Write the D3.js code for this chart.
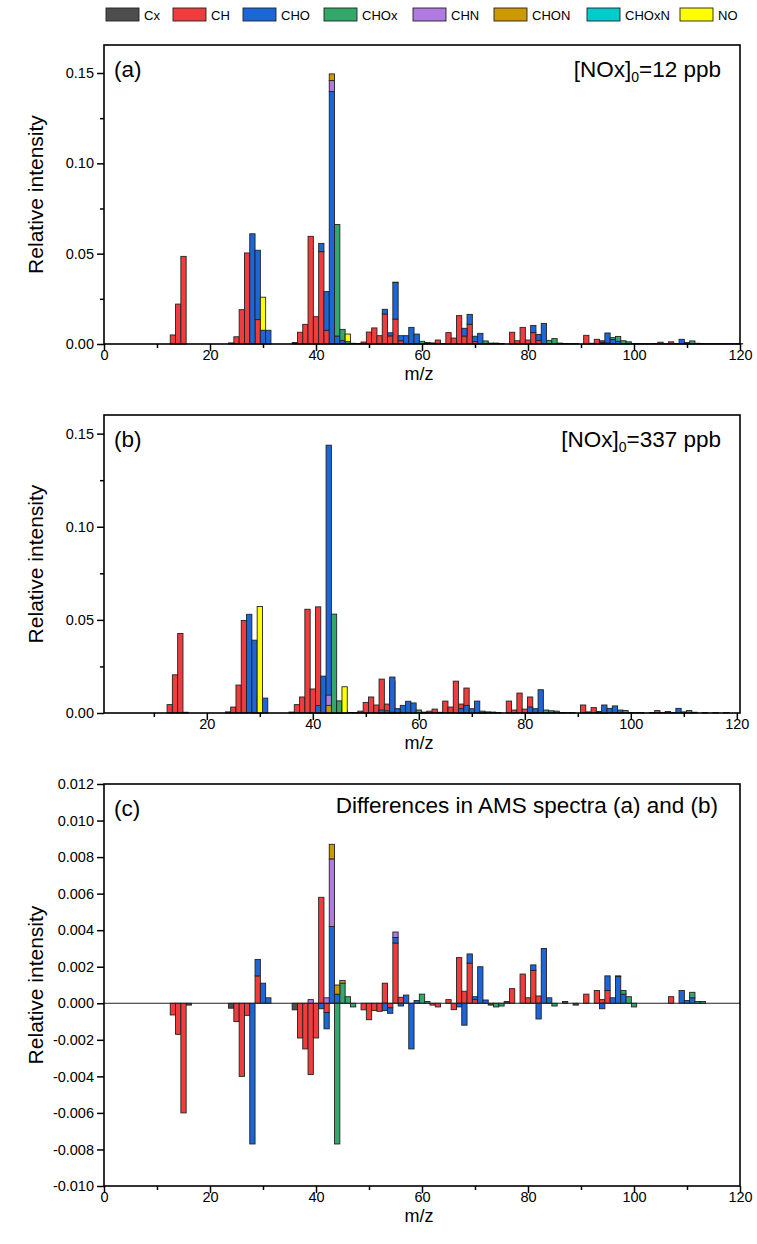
<!DOCTYPE html>
<html>
<head>
<meta charset="utf-8">
<script src="https://cdn.jsdelivr.net/npm/d3@7"></script>
<style>
  body { margin: 0; background: #fff; }
  svg { display: block; font-family: "Liberation Sans", Arial, sans-serif; }
</style>
</head>
<body>
<svg id="chart" width="757" height="1244"></svg>
<script>
const categories = ["Cx", "CH", "CHO", "CHOx", "CHN", "CHON", "CHOxN", "NO"]
const colors = ["#4d4d4d", "#f03c3c", "#1c66d8", "#33a86a", "#b07ae0", "#cc9900", "#00cccc", "#ffff00"]
const mzValues = d3.range(1, 121)

// (a) [NOx]0 = 12 ppb, [m/z, relative intensity]
const aCx = [[24,0.0006],[36,0.0008],[48,0.0003],[61,0.0004],[75,0.0003],[87,0.0003],[88,0.0002],[89,0.0002],[100,0.0003],[101,0.0003],[102,0.0002],[103,0.0002],[104,0.0003],[106,0.0002],[108,0.0003],[114,0.0002],[115,0.0002],[116,0.0002],[117,0.0002],[118,0.0002],[119,0.0002],[120,0.0002]]
const aCH = [[13,0.0050],[14,0.0221],[15,0.0485],[25,0.0040],[26,0.0190],[27,0.0504],[29,0.0135],[37,0.0065],[38,0.0109],[39,0.0596],[40,0.0151],[41,0.0511],[42,0.0076],[49,0.0011],[50,0.0066],[51,0.0089],[52,0.0046],[53,0.0166],[54,0.0045],[55,0.0138],[56,0.0018],[62,0.0006],[63,0.0022],[64,0.0003],[65,0.0063],[66,0.0033],[67,0.0157],[68,0.0044],[69,0.0109],[70,0.0013],[77,0.0065],[78,0.0018],[79,0.0092],[80,0.0022],[81,0.0063],[82,0.0020],[91,0.0048],[92,0.0004],[93,0.0026],[94,0.0008],[95,0.0006],[105,0.0010],[107,0.0012]]
const aCHO = [[28,0.0610],[29,0.0384],[30,0.0076],[31,0.0076],[41,0.0046],[42,0.0214],[43,0.1397],[44,0.0044],[45,0.0020],[53,0.0026],[54,0.0017],[55,0.0203],[56,0.0028],[57,0.0046],[58,0.0092],[59,0.0055],[68,0.0043],[69,0.0055],[70,0.0030],[71,0.0059],[81,0.0040],[82,0.0033],[83,0.0114],[94,0.0010],[95,0.0055],[96,0.0025],[97,0.0015],[109,0.0026],[110,0.0008]]
const aCHOx = [[44,0.0617],[45,0.0061],[46,0.0013],[47,0.0004],[60,0.0015],[61,0.0004],[72,0.0017],[73,0.0005],[74,0.0005],[84,0.0020],[85,0.0030],[86,0.0005],[96,0.0010],[97,0.0027],[98,0.0018],[99,0.0012],[111,0.0017],[112,0.0004],[113,0.0003]]
const aCHN = [[43,0.0061],[55,0.0001]]
const aCHON = [[43,0.0037]]
const aCHOxN = []
const aNO = [[30,0.0183],[46,0.0042]]

// (b) [NOx]0 = 337 ppb
const bCx = [[16,0.0004],[24,0.0006],[36,0.0005],[48,0.0003],[61,0.0004],[75,0.0003],[87,0.0003],[88,0.0002],[89,0.0002],[100,0.0003],[101,0.0003],[102,0.0002],[104,0.0003],[106,0.0002],[108,0.0003],[114,0.0002],[116,0.0002],[118,0.0002]]
const bCH = [[13,0.0045],[14,0.0205],[15,0.0427],[25,0.0032],[26,0.0150],[27,0.0497],[29,0.0150],[37,0.0045],[38,0.0086],[39,0.0557],[40,0.0129],[41,0.0570],[42,0.0071],[49,0.0010],[50,0.0057],[51,0.0086],[52,0.0043],[53,0.0182],[54,0.0048],[55,0.0171],[56,0.0021],[62,0.0010],[63,0.0021],[64,0.0004],[65,0.0064],[66,0.0032],[67,0.0171],[68,0.0048],[69,0.0134],[70,0.0015],[77,0.0064],[78,0.0016],[79,0.0107],[80,0.0021],[81,0.0086],[82,0.0020],[91,0.0043],[92,0.0006],[93,0.0029],[94,0.0008],[95,0.0010],[105,0.0013],[107,0.0008]]
const bCHO = [[28,0.0530],[29,0.0391],[30,0.0087],[31,0.0080],[41,0.0040],[42,0.0198],[43,0.1438],[44,0.0049],[45,0.0020],[53,0.0016],[54,0.0012],[55,0.0193],[56,0.0023],[57,0.0041],[58,0.0063],[59,0.0054],[68,0.0023],[69,0.0041],[70,0.0023],[71,0.0064],[72,0.0004],[81,0.0032],[82,0.0023],[83,0.0125],[94,0.0006],[95,0.0043],[96,0.0025],[97,0.0038],[98,0.0016],[109,0.0025],[110,0.0006]]
const bCHOx = [[44,0.0531],[45,0.0065],[46,0.0015],[47,0.0003],[60,0.0016],[61,0.0004],[72,0.0010],[73,0.0006],[74,0.0005],[84,0.0016],[85,0.0012],[86,0.0010],[99,0.0013],[111,0.0013],[112,0.0004]]
const bCHN = [[43,0.0096],[55,0.0004]]
const bCHON = [[43,0.0041]]
const bCHOxN = []
const bNO = [[30,0.0572],[46,0.0141]]

// (c) differences between (b) and (a)
const cCx = [[16,-0.0001],[24,-0.00027],[36,-0.00036],[73,-0.0001],[76,0.0001],[87,0.0001],[89,-0.0001]]
const cCH = [[13,-0.00064],[14,-0.0017],[15,-0.0060],[25,-0.0010],[26,-0.0040],[27,-0.00066],[29,0.0015],[37,-0.0019],[38,-0.0025],[39,-0.0039],[40,-0.0019],[41,0.0058],[42,-0.0005],[49,-0.00036],[50,-0.0009],[51,-0.0004],[52,-0.00044],[53,0.0011],[54,-0.00025],[55,0.0033],[56,0.00033],[62,-0.0001],[63,-0.0002],[65,0.0002],[66,-0.00035],[67,0.0025],[68,0.00066],[69,0.0022],[70,0.0002],[77,0.0008],[79,0.0016],[80,0.0003],[81,0.0018],[82,0.0004],[91,0.0005],[93,0.0007],[94,0.0002],[95,0.0007],[107,0.00036]]
const cCHO = [[28,-0.0077],[29,0.0009],[30,0.0011],[31,0.0003],[41,-0.0003],[42,-0.0009],[43,0.0042],[44,0.0005],[53,-0.0004],[54,-0.0003],[55,0.0003],[56,-0.00015],[57,0.00045],[58,-0.0025],[59,0.00015],[67,-0.0002],[68,-0.0012],[69,0.0005],[70,0.00016],[71,0.0020],[72,0.00018],[81,0.0003],[82,-0.00086],[83,0.0030],[84,0.0003],[94,-0.0003],[95,0.0008],[96,0.0003],[97,0.00146],[98,0.0005],[109,0.0007],[110,0.00015],[111,0.0003]]
const cCHOx = [[44,-0.0077],[45,0.0011],[46,0.00036],[47,-0.0002],[60,0.0005],[61,0.0001],[74,-0.0002],[75,-0.00015],[85,-0.00015],[97,0.00004],[98,0.0002],[99,0.00036],[100,-0.0002],[111,0.0003],[112,0.0001],[113,0.0001]]
const cCHN = [[39,0.0002],[42,0.0003],[43,0.0037],[55,0.0003]]
const cCHON = [[43,0.0008],[44,0.0005],[45,0.00015]]
const cCHOxN = []
const cNO = []

const xMajor = [0, 20, 40, 60, 80, 100, 120]
const xMinor = [10, 30, 50, 70, 90, 110]

const svg = d3.select("#chart")
const x0 = 104, x1 = 740

function buildRows(series) {
    return mzValues.map(m => {
        const row = { mz: m }
        categories.forEach((c, i) => {
            const hit = series[i].find(p => p[0] === m)
            row[c] = hit ? hit[1] : 0
        })
        return row
    })
}

const panels = [
    { top: 45, bottom: 344, xDomain: [0, 120], yDomain: [0, 0.1655], mode: "stack",
      yMajor: [0, 0.05, 0.10, 0.15], yMinor: [0.025, 0.075, 0.125], fmt: d3.format(".2f"),
      series: [aCx, aCH, aCHO, aCHOx, aCHN, aCHON, aCHOxN, aNO], tag: "(a)", ppb: "12" },
    { top: 415, bottom: 713, xDomain: [0.6, 120.6], yDomain: [0, 0.16], mode: "overlap",
      yMajor: [0, 0.05, 0.10, 0.15], yMinor: [0.025, 0.075, 0.125], fmt: d3.format(".2f"),
      series: [bCx, bCH, bCHO, bCHOx, bCHN, bCHON, bCHOxN, bNO], tag: "(b)", ppb: "337" },
    { top: 784, bottom: 1186, xDomain: [0, 120], yDomain: [-0.010, 0.012], mode: "diverge",
      yMajor: d3.range(-10, 13, 2).map(v => v / 1000), yMinor: [], fmt: d => d3.format(".3f")(d).replace("\u2212", "-"),
      series: [cCx, cCH, cCHO, cCHOx, cCHN, cCHON, cCHOxN, cNO], tag: "(c)" }
]

panels.forEach(p => {
    const x = d3.scaleLinear().domain(p.xDomain).range([x0, x1])
    const y = d3.scaleLinear().domain(p.yDomain).range([p.bottom, p.top])
    const rows = buildRows(p.series)
    const bw = x(1) - x(0)
    const g = svg.append("g")

    const bars = g.append("g").attr("stroke", "#222").attr("stroke-width", 0.9)
    if (p.mode === "overlap") {
        // (b) draws every class from zero, one over the other
        categories.forEach((c, i) => {
            bars.append("g").attr("fill", colors[i])
                .selectAll("rect")
                .data(rows.filter(r => r[c] > 0))
                .join("rect")
                .attr("x", d => x(d.mz) - bw / 2)
                .attr("width", bw)
                .attr("y", d => y(d[c]))
                .attr("height", d => y(0) - y(d[c]))
        })
    } else {
        const stack = d3.stack().keys(categories)
        if (p.mode === "diverge") stack.offset(d3.stackOffsetDiverging)
        const stacked = stack(rows)
        bars.selectAll("g")
            .data(stacked)
            .join("g")
            .attr("fill", (d, i) => colors[i])
            .selectAll("rect")
            .data(d => d.filter(s => s[1] !== s[0]))
            .join("rect")
            .attr("x", d => x(d.data.mz) - bw / 2)
            .attr("width", bw)
            .attr("y", d => y(Math.max(d[0], d[1])))
            .attr("height", d => Math.abs(y(d[0]) - y(d[1])))
    }

    if (p.mode === "diverge") {
        g.append("line")
            .attr("x1", x0).attr("x2", x1)
            .attr("y1", y(0)).attr("y2", y(0))
            .attr("stroke", "#222").attr("stroke-width", 1.2)
    }

    // frame
    g.append("rect")
        .attr("x", x0).attr("y", p.top)
        .attr("width", x1 - x0).attr("height", p.bottom - p.top)
        .attr("fill", "none").attr("stroke", "#000").attr("stroke-width", 1.6)

    const inDomain = v => v >= p.xDomain[0] && v <= p.xDomain[1]
    g.append("g")
        .attr("transform", `translate(0,${p.bottom})`)
        .call(d3.axisBottom(x).tickValues(xMajor.filter(inDomain)).tickSize(7).tickPadding(-1))
    g.append("g")
        .attr("transform", `translate(0,${p.bottom})`)
        .call(d3.axisBottom(x).tickValues(xMinor.filter(inDomain)).tickSize(4).tickFormat(""))

    g.append("g")
        .attr("transform", `translate(${x0},0)`)
        .call(d3.axisLeft(y).tickValues(p.yMajor).tickSize(7).tickPadding(3).tickFormat(p.fmt))
    g.append("g")
        .attr("transform", `translate(${x0},0)`)
        .call(d3.axisLeft(y).tickValues(p.yMinor).tickSize(4).tickFormat(""))

    g.selectAll(".domain").remove()
    g.selectAll(".tick line").attr("stroke", "#000").attr("stroke-width", 1.5)
    g.selectAll(".tick text").attr("font-size", 14.5).attr("font-family", "Liberation Sans, Arial, sans-serif").attr("fill", "#000")

    g.append("text")
        .attr("x", (x0 + x1) / 2 - 3).attr("y", p.bottom + 36)
        .attr("text-anchor", "middle").attr("font-size", 18)
        .text("m/z")

    g.append("text")
        .attr("transform", `translate(43,${(p.top + p.bottom) / 2}) rotate(-90)`)
        .attr("text-anchor", "middle").attr("font-size", 21)
        .text("Relative intensity")

    g.append("text")
        .attr("x", 114).attr("y", p.top + 32)
        .attr("font-size", 22.5)
        .text(p.tag)

    if (p.ppb) {
        const t = g.append("text")
            .attr("x", 721).attr("y", p.top + 32)
            .attr("text-anchor", "end").attr("font-size", 22.5)
        t.append("tspan").text("[NOx]")
        t.append("tspan").attr("font-size", 14).attr("dy", 5).text("0")
        t.append("tspan").attr("dy", -5).text(`=${p.ppb} ppb`)
    } else {
        g.append("text")
            .attr("x", 718).attr("y", p.top + 29)
            .attr("text-anchor", "end").attr("font-size", 22.5)
            .text("Differences in AMS spectra (a) and (b)")
    }
})

// legend
const legendX = [106, 173, 243, 324, 413, 494, 587, 680]
const legend = svg.append("g")
categories.forEach((c, i) => {
    legend.append("rect")
        .attr("x", legendX[i]).attr("y", 8)
        .attr("width", 33).attr("height", 13)
        .attr("fill", colors[i]).attr("stroke", "#222").attr("stroke-width", 0.9)
    legend.append("text")
        .attr("x", legendX[i] + 38).attr("y", 19.5)
        .attr("font-size", 13)
        .text(c)
})
</script>
</body>
</html>
